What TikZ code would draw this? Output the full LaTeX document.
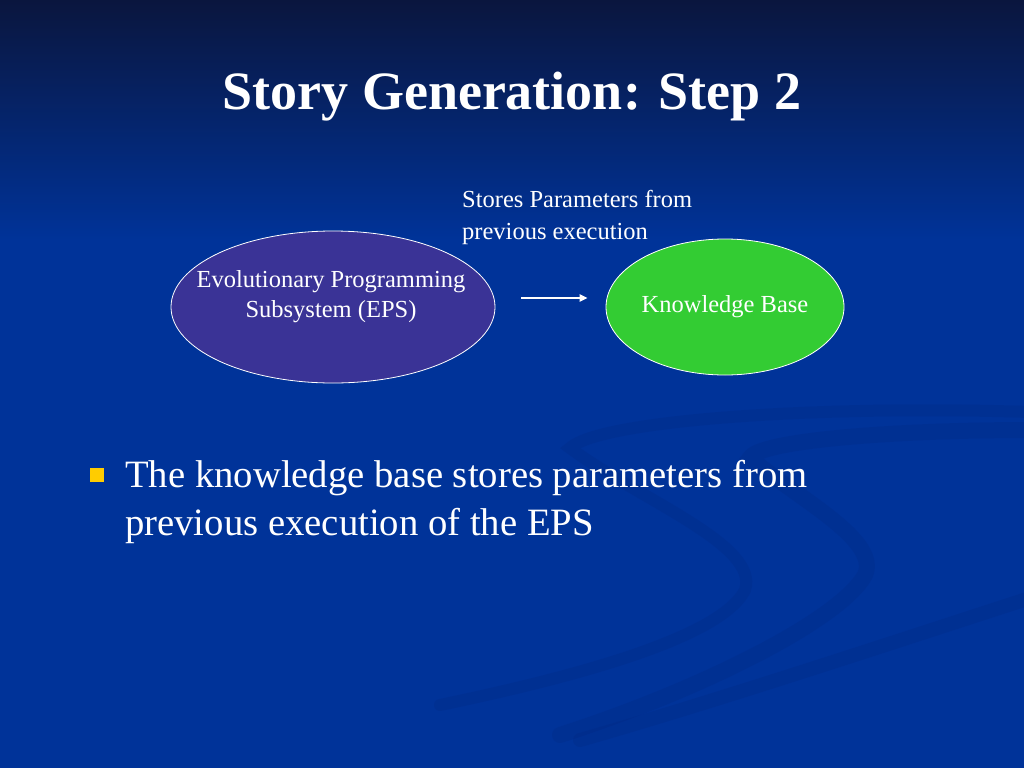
\documentclass[tikz,border=0pt]{standalone}
\usepackage{fontspec}
\setmainfont{Liberation Serif}
\usetikzlibrary{arrows.meta, shapes.geometric}
\definecolor{slideNavy}{RGB}{10,22,62}
\definecolor{slideBlue}{RGB}{0,51,153}
\definecolor{swirlBlue}{RGB}{0,38,125}
\definecolor{epsPurple}{RGB}{58,51,150}
\definecolor{kbGreen}{RGB}{51,204,51}
\definecolor{bulletGold}{RGB}{255,204,0}

\begin{document}
\begin{tikzpicture}[x=1pt, y=-1pt, >={Triangle[length=8pt,width=7pt]},
  blob/.style={ellipse, draw=white, line width=0.8pt, inner sep=0pt,
               text=white, align=center, font=\fontsize{24.5}{30}\selectfont},
  txt/.style={text=white, anchor=base west, inner sep=0pt},
  swirl/.style={swirlBlue, opacity=0.22, line cap=round}]

  \useasboundingbox (0,0) rectangle (1024,768);
  \fill[slideBlue] (0,0) rectangle (1024,768);
  \shade[top color=slideNavy, bottom color=slideBlue] (0,0) rectangle (1024,240);

  % faint swirls in the background
  \draw[swirl, line width=12pt] (1030,412) .. controls (820,405) and (600,420) .. (570,448)
    .. controls (640,500) and (760,545) .. (745,590) .. controls (720,640) and (560,680) .. (440,705);
  \draw[swirl, line width=16pt] (1030,430) .. controls (900,430) and (760,440) .. (750,458)
    .. controls (800,500) and (880,540) .. (865,575) .. controls (840,620) and (700,690) .. (560,735);
  \draw[swirl, line width=14pt] (1030,598) .. controls (900,640) and (720,700) .. (580,740);

  \node[font=\bfseries\fontsize{54}{60}\selectfont, text=white] (title) at (512,97)
    {Story Generation: Step 2};

  \node[blob, fill=epsPurple, minimum width=324, minimum height=152] (eps) at (333,307) {};
  \node[blob, draw=none, anchor=base] (epstext) at (331,317)
    {Evolutionary Programming\\Subsystem (EPS)};
  \node[blob, fill=kbGreen, minimum width=238, minimum height=136] (kb) at (725,307)
    {Knowledge Base};

  \node[txt, align=left, font=\fontsize{24.5}{32}\selectfont] (note) at (462,239)
    {Stores Parameters from\\previous execution};

  \draw[->, white, line width=2pt, shorten <=26pt, shorten >=18pt]
    ([yshift=9pt]eps.east) -- ([yshift=9pt]kb.west);

  \node[fill=bulletGold, minimum size=14, inner sep=0pt] (dot) at (97,475) {};
  \node[txt, align=left, font=\fontsize{38.7}{48}\selectfont] (point) at (125,535)
    {The knowledge base stores parameters from\\previous execution of the EPS};

\end{tikzpicture}
\end{document}
